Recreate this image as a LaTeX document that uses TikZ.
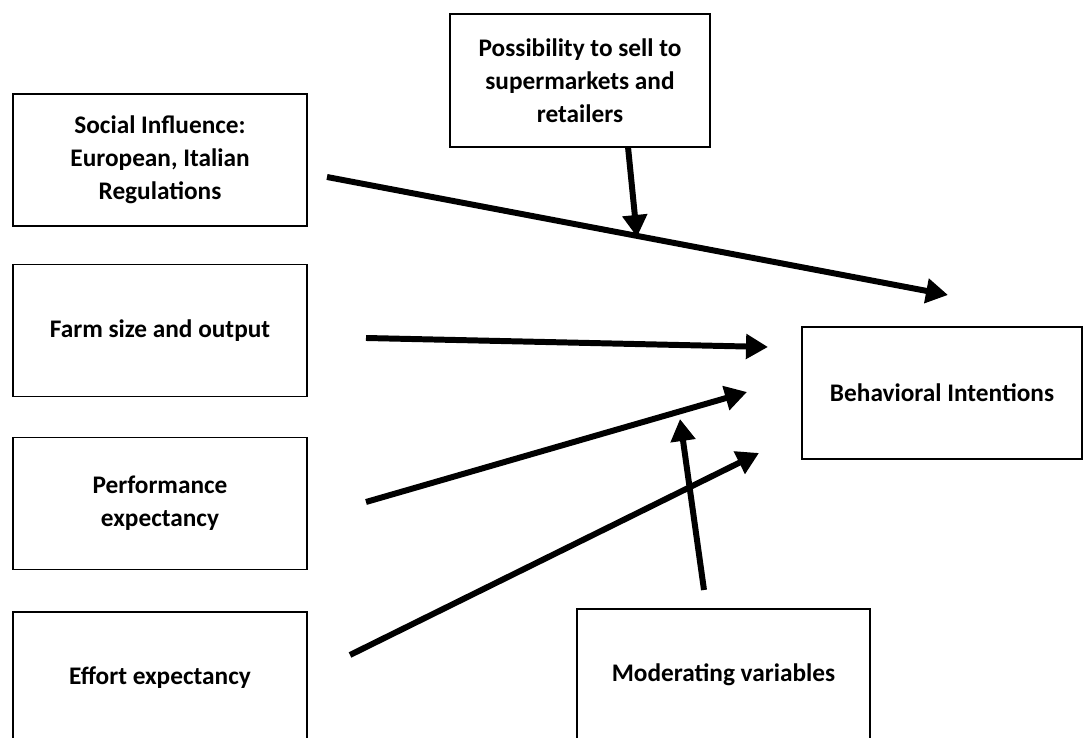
\documentclass[tikz,border=0pt]{standalone}
\usepackage{fontspec}
\setmainfont{Carlito}
\usepackage{tikz}
\usetikzlibrary{arrows.meta,positioning}

\begin{document}
\begin{tikzpicture}[
  >={Triangle[length=4.4mm, width=4.8mm]},
  factor/.style={draw, line width=1.1pt, align=center, minimum width=5.88cm,
    minimum height=2.64cm, font=\fontsize{14.4}{18.8}\selectfont\bfseries},
  influence/.style={draw, ->, line width=3.4pt}
]
  \useasboundingbox (0,0) rectangle (21.68,14.76);

  \node[factor] (social) at (3.2,11.56) {Social Influence:\\European, Italian\\Regulations};
  \node[factor] (farm) at (3.2,8.15) {Farm size and output};
  \node[factor] (perf) at (3.2,4.69) {Performance\\expectancy};
  \node[factor] (effort) at (3.2,1.2) {Effort expectancy};
  \node[factor, minimum width=5.2cm, minimum height=2.66cm] (sell) at (11.6,13.15)
    {Possibility to sell to\\supermarkets and\\retailers};
  \node[factor, minimum width=5.6cm] (intent) at (18.84,6.9) {Behavioral Intentions};
  \node[factor, minimum width=5.86cm] (moder) at (14.47,1.26) {Moderating variables};

  % free ends of the arrows
  \coordinate (socialOut) at (6.54,11.22);
  \coordinate (socialIn) at (18.96,8.86);
  \coordinate (sellOut) at (12.56,11.82);
  \coordinate (sellIn) at (12.74,10.02);
  \coordinate (farmOut) at (7.32,8.0);
  \coordinate (farmIn) at (15.36,7.82);
  \coordinate (perfOut) at (7.32,4.72);
  \coordinate (perfIn) at (14.94,6.92);
  \coordinate (effortOut) at (7.0,1.66);
  \coordinate (effortIn) at (15.18,5.7);
  \coordinate (moderOut) at (14.08,2.96);
  \coordinate (moderIn) at (13.6,6.38);

  \path[influence] (socialOut) -- (socialIn);
  \path[influence] (sellOut) -- (sellIn);
  \path[influence] (farmOut) -- (farmIn);
  \path[influence] (perfOut) -- (perfIn);
  \path[influence] (effortOut) -- (effortIn);
  \path[influence] (moderOut) -- (moderIn);
\end{tikzpicture}
\end{document}
